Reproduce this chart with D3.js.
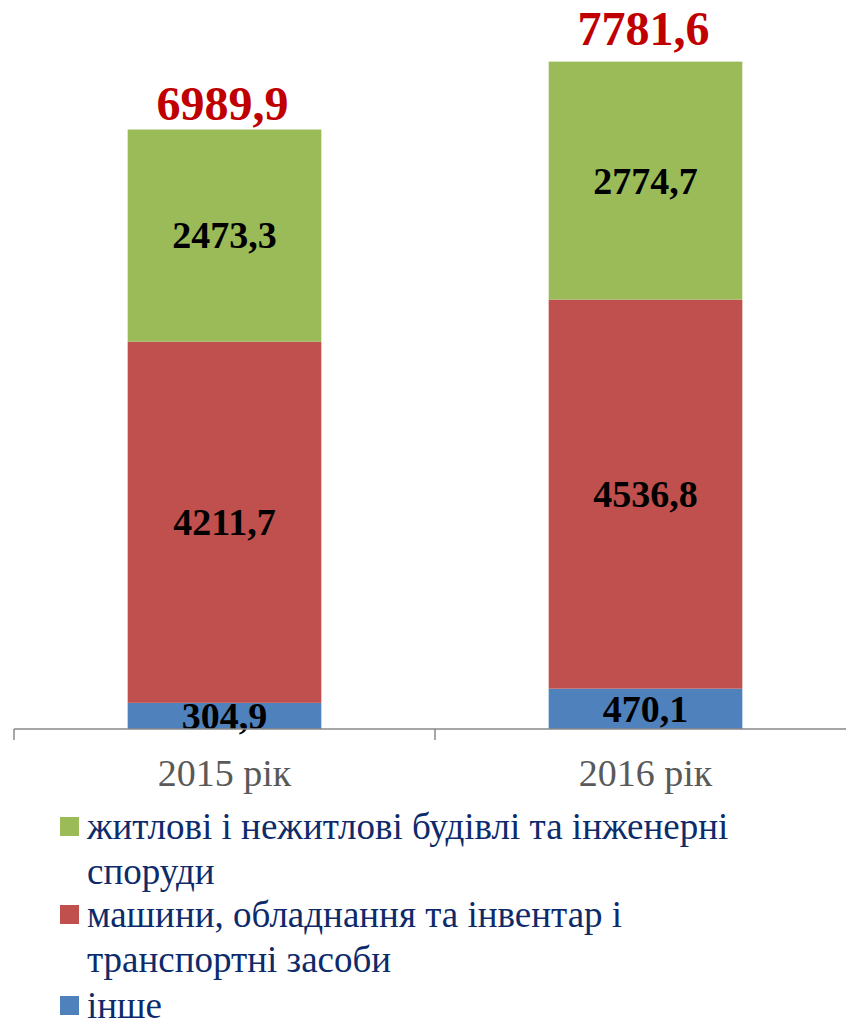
<!DOCTYPE html>
<html>
<head>
<meta charset="utf-8">
<script src="https://cdn.jsdelivr.net/npm/d3@7"></script>
<style>
  html, body { margin: 0; padding: 0; background: #fff; }
  svg { display: block; }
</style>
</head>
<body>
<svg id="chart" width="846" height="1027"></svg>
<script>
// дані
const years = ["2015 рік", "2016 рік"];
const inshe = [304.9, 470.1];
const mashyny = [4211.7, 4536.8];
const budivli = [2473.3, 2774.7];
const totals = [6989.9, 7781.6];

const seriesKeys = ["inshe", "mashyny", "budivli"];
const legendLines = {
  budivli: ["житлові і нежитлові будівлі та інженерні", "споруди"],
  mashyny: ["машини, обладнання та інвентар і", "транспортні засоби"],
  inshe: ["інше"]
};
const colors = { inshe: "#4F81BD", mashyny: "#C0504D", budivli: "#9BBB59" };

const rows = years.map((y, i) => ({
  year: y,
  inshe: inshe[i],
  mashyny: mashyny[i],
  budivli: budivli[i],
  total: totals[i]
}));

const svg = d3.select("#chart");
const serif = "'Liberation Serif', 'Times New Roman', serif";
const fmt = v => d3.format(".1f")(v).replace(".", ",");

// шкали
const x = d3.scaleBand().domain(years).range([14, 856]).padding(0);
const barW = x.bandwidth() * 0.46;
const y = d3.scaleLinear().domain([0, 8500]).range([729, 0]);

const stacked = d3.stack().keys(seriesKeys)(rows);

const layer = svg.append("g")
  .selectAll("g")
  .data(stacked)
  .enter()
  .append("g")
  .attr("fill", d => colors[d.key]);

layer.selectAll("rect")
  .data(d => d)
  .enter()
  .append("rect")
  .attr("x", d => x(d.data.year) + (x.bandwidth() - barW) / 2)
  .attr("y", d => y(d[1]))
  .attr("width", barW)
  .attr("height", d => y(d[0]) - y(d[1]));

// підписи сегментів
layer.selectAll("text")
  .data(d => d.map(v => Object.assign({ key: d.key }, v)))
  .enter()
  .append("text")
  .attr("x", d => x(d.data.year) + x.bandwidth() / 2)
  .attr("y", d => (y(d[0]) + y(d[1])) / 2)
  .attr("dy", "0.34em")
  .attr("text-anchor", "middle")
  .style("font-family", serif)
  .style("font-weight", "bold")
  .style("font-size", "38px")
  .attr("fill", "#000")
  .text(d => fmt(d.data[d.key]));

// загальні суми
const lift = { "2015 рік": 10, "2016 рік": 17 };
svg.append("g")
  .selectAll("text")
  .data(rows)
  .enter()
  .append("text")
  .attr("x", d => x(d.year) + x.bandwidth() / 2 - 2)
  .attr("y", d => y(d.total) - lift[d.year])
  .attr("text-anchor", "middle")
  .style("font-family", serif)
  .style("font-weight", "bold")
  .style("font-size", "48px")
  .attr("fill", "#C00000")
  .text(d => fmt(d.total));

// вісь
const axis = svg.append("g")
  .attr("transform", "translate(0,729)");
axis.append("line")
  .attr("x1", 14).attr("x2", 856)
  .attr("stroke", "#898989").attr("stroke-width", 1.5);
axis.selectAll(".tickmark")
  .data([0, 1, 2])
  .enter()
  .append("line")
  .attr("x1", i => 14 + i * x.step()).attr("x2", i => 14 + i * x.step())
  .attr("y1", 0).attr("y2", 11)
  .attr("stroke", "#898989").attr("stroke-width", 1.5);

svg.append("g")
  .selectAll("text")
  .data(years)
  .enter()
  .append("text")
  .attr("x", d => x(d) + x.bandwidth() / 2)
  .attr("y", 786)
  .attr("text-anchor", "middle")
  .style("font-family", serif)
  .style("font-size", "38px")
  .attr("fill", "#595959")
  .text(d => d);

// легенда
const legendOrder = ["budivli", "mashyny", "inshe"];
const legendTop = [839, 927, 1018];
const lineH = 45;
const legend = svg.append("g")
  .selectAll("g")
  .data(legendOrder)
  .enter()
  .append("g")
  .attr("transform", (d, i) => `translate(60,${legendTop[i]})`);

legend.append("rect")
  .attr("x", 0).attr("y", -22)
  .attr("width", 19).attr("height", 19)
  .attr("fill", d => colors[d]);

legend.append("text")
  .style("font-family", serif)
  .style("font-size", "37px")
  .attr("fill", "#0d2b6b")
  .selectAll("tspan")
  .data(d => legendLines[d])
  .enter()
  .append("tspan")
  .attr("x", 27)
  .attr("y", (d, i) => i * lineH)
  .text(d => d);
</script>
</body>
</html>
